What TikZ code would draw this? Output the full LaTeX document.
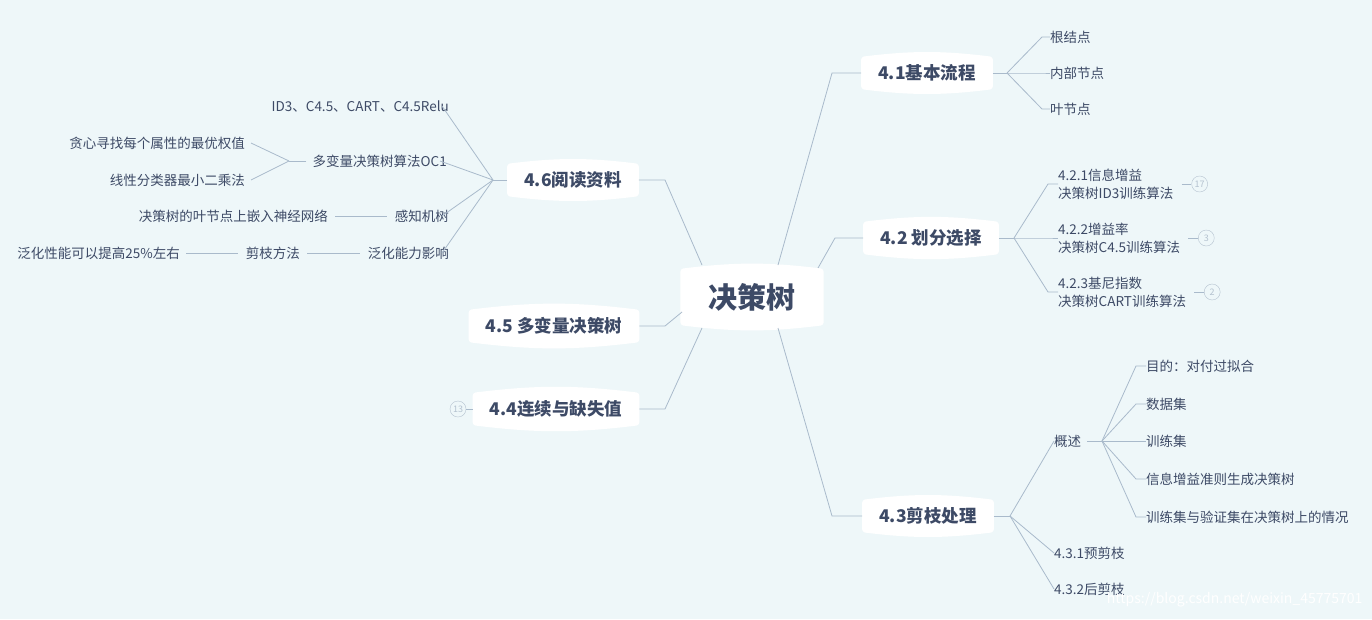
\documentclass[tikz,border=0pt]{standalone}
\usepackage{fontspec}
\setmainfont{Noto Sans CJK SC}
\usetikzlibrary{backgrounds}
\definecolor{pagebg}{HTML}{EEF7F9}
\definecolor{textcolor}{HTML}{3D4A66}
\definecolor{linecolor}{HTML}{A9BACB}
\definecolor{badgecolor}{HTML}{B4C2CF}
\newcommand{\blob}[1]{%
  \fill[white, rounded corners=3pt] (#1.north west) to[bend left=7] (#1.north east)
    -- (#1.south east) to[bend left=7] (#1.south west) -- cycle;}

\begin{document}
\begin{tikzpicture}[x=1pt, y=-1pt,
    leaf/.style={font=\fontsize{13.5}{16}\selectfont, text=textcolor, inner sep=0pt},
    topic/.style={font=\bfseries\fontsize{17.5}{20}\selectfont, text=textcolor,
      minimum height=32pt, inner xsep=17pt},
    badge/.style={circle, draw=badgecolor, text=badgecolor, minimum size=16pt, inner sep=0pt,
      font=\fontsize{9}{10}\selectfont},
    conn/.style={linecolor, line width=0.8pt}]
  \useasboundingbox (0,0) rectangle (1372,619);

  % === MAIN TOPICS ===
  \node[font=\bfseries\fontsize{29}{34}\selectfont, text=textcolor, minimum width=143pt,
    minimum height=56pt] (root) at (752,297) {决策树};
  \node[topic] (t41) at (927,73) {4.1基本流程};
  \node[topic] (t42) at (931,238) {4.2 划分选择};
  \node[topic] (t43) at (928,516) {4.3剪枝处理};
  \node[topic] (t46) at (573,180) {4.6阅读资料};
  \node[topic] (t45) at (554,326) {4.5 多变量决策树};
  \node[topic] (t44) at (556,409) {4.4连续与缺失值};
  \begin{scope}[on background layer]
    \fill[pagebg] (0,0) rectangle (1372,619);
    \foreach \n in {root,t41,t42,t43,t44,t45,t46} {\blob{\n}}
  \end{scope}

  % root connectors
  \draw[conn] (778,265) -- (832,73) -- (t41.west);
  \draw[conn] (818,268) -- (835,238) -- (t42.west);
  \draw[conn] (778,328) -- (832,516) -- (t43.west);
  \draw[conn] (702,265) -- (665,180) -- (t46.east);
  \draw[conn] (682,312) -- (665,326) -- (t45.east);
  \draw[conn] (702,328) -- (665,409) -- (t44.east);

  % === 4.1 ===
  \coordinate (j41) at (1007,73);
  \draw[conn] (t41.east) -- (j41);
  \foreach \y/\txt [count=\i] in {37/根结点, 73/内部节点, 109/叶节点} {
    \node[leaf, anchor=west] (a\i) at (1050,\y) {\txt};
    \draw[conn] (j41) -- (1042,\y) -- (a\i.west);
  }

  % === 4.2 ===
  \coordinate (j42) at (1014,238);
  \draw[conn] (t42.east) -- (j42);
  \foreach \y/\ta/\tb/\num [count=\i] in {184/4.2.1信息增益/决策树ID3训练算法/17,
      238/4.2.2增益率/决策树C4.5训练算法/3, 292/4.2.3基尼指数/决策树CART训练算法/2} {
    \node[leaf, anchor=west, align=left, font=\fontsize{13.5}{18}\selectfont] (b\i) at (1058,\y) {\ta\\\tb};
    \draw[conn] (j42) -- (1048,\y) -- (b\i.west);
    \node[badge] (c\i) at ([xshift=26pt]b\i.east) {\num};
    \draw[conn] ([xshift=8pt]b\i.east) -- (c\i);
  }

  % === 4.3 ===
  \coordinate (j43) at (1010,516);
  \draw[conn] (t43.east) -- (j43);
  \node[leaf, anchor=west] (gs) at (1054,441) {概述};
  \node[leaf, anchor=west] (p1) at (1054,553) {4.3.1预剪枝};
  \node[leaf, anchor=west] (p2) at (1054,589) {4.3.2后剪枝};
  \foreach \n in {gs,p1,p2} {\draw[conn] (j43) -- (\n.west);}
  \coordinate (jgs) at (1102,441);
  \draw[conn] ([xshift=6pt]gs.east) -- (jgs);
  \foreach \y/\txt [count=\i] in {366/目的：对付过拟合, 404/数据集, 441/训练集,
      479/信息增益准则生成决策树, 517/训练集与验证集在决策树上的情况} {
    \node[leaf, anchor=west] (d\i) at (1146,\y) {\txt};
    \draw[conn] (jgs) -- (1136,\y) -- (d\i.west);
  }

  % === 4.6 ===
  \coordinate (j46) at (493,180);
  \draw[conn] (t46.west) -- (j46);
  \node[leaf, anchor=east] (e1) at (449,106) {ID3、C4.5、CART、C4.5Relu};
  \node[leaf, anchor=east] (e2) at (447,161) {多变量决策树算法OC1};
  \node[leaf, anchor=east] (e3) at (449,216) {感知机树};
  \node[leaf, anchor=east] (e4) at (449,253) {泛化能力影响};
  \foreach \n in {e1,e2,e3,e4} {\draw[conn] (j46) -- ([xshift=-7pt]\n.east) ;}
  \coordinate (je2) at (289,161);
  \draw[conn] ([xshift=-6pt]e2.west) -- (je2);
  \node[leaf, anchor=east] (f1) at (245,143) {贪心寻找每个属性的最优权值};
  \node[leaf, anchor=east] (f2) at (245,180) {线性分类器最小二乘法};
  \foreach \n in {f1,f2} {\draw[conn] (je2) -- ([xshift=6pt]\n.east);}
  \node[leaf, anchor=east] (g1) at (328,216) {决策树的叶节点上嵌入神经网络};
  \draw[conn] ([xshift=-8pt]e3.west) -- ([xshift=7pt]g1.east);
  \node[leaf, anchor=east] (h1) at (300,253) {剪枝方法};
  \node[leaf, anchor=east] (h2) at (180,253) {泛化性能可以提高25\%左右};
  \draw[conn] ([xshift=-8pt]e4.west) -- ([xshift=7pt]h1.east);
  \draw[conn] ([xshift=-8pt]h1.west) -- ([xshift=6pt]h2.east);

  % === 4.4 badge ===
  \node[badge] (c4) at (458,409) {13};
  \draw[conn] (c4) -- (t44.west);

  % watermark
  \node[anchor=east, text=white, font=\fontsize{14}{16}\selectfont] (wm) at (1366,600)
    {https://blog.csdn.net/weixin\_45775701};
\end{tikzpicture}
\end{document}
